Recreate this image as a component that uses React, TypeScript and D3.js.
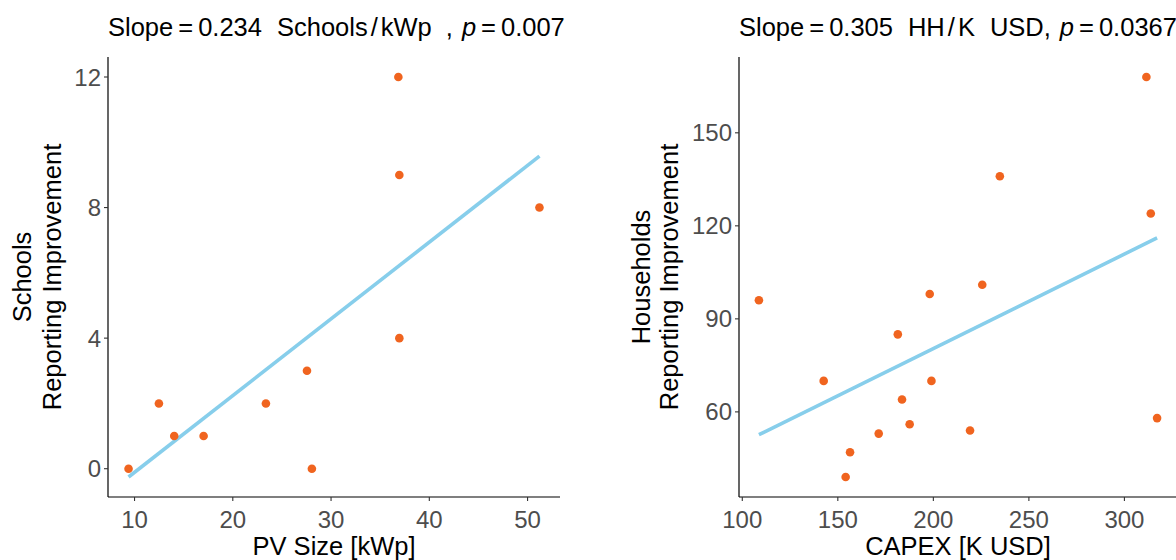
import React from "react";
import * as d3 from "d3";

const pvSize = [9.39, 12.48, 14.04, 17.03, 23.37, 27.55, 28.05, 36.85, 36.95, 51.21, 36.95];
const schools = [0, 2, 1, 1, 2, 3, 0, 12, 9, 8, 4];
const capex = [108.7, 142.6, 154.1, 156.4, 171.4, 181.4, 183.6, 187.6, 198.1, 199.0, 219.2, 225.6, 234.8, 311.5, 313.8, 317.1];
const households = [96, 70, 39, 47, 53, 85, 64, 56, 98, 70, 54, 101, 136, 168, 124, 58];
const leftXTicks = [10, 20, 30, 40, 50];
const leftYTicks = [0, 4, 8, 12];
const rightXTicks = [100, 150, 200, 250, 300];
const rightYTicks = [60, 90, 120, 150];

const ORANGE = "#F0641F";
const BLUE = "#87CEEB";
const FONT = "'Liberation Sans', Arial, Helvetica, sans-serif";

function fit(xs: number[], ys: number[]) {
  const mx = d3.mean(xs)!;
  const my = d3.mean(ys)!;
  let num = 0, den = 0;
  xs.forEach((x, i) => { num += (x - mx) * (ys[i] - my); den += (x - mx) ** 2; });
  const b = num / den;
  return { a: my - b * mx, b };
}

function expand(ext: [number, number]): [number, number] {
  const d = (ext[1] - ext[0]) * 0.05;
  return [ext[0] - d, ext[1] + d];
}

type PanelProps = {
  xs: number[]; ys: number[]; xTicks: number[]; yTicks: number[];
  left: number; right: number; top: number; bottom: number;
  xTitle: string; yTitle: string[]; title: React.ReactNode; yTitleX: number[];
};

function Panel(p: PanelProps) {
  const { a, b } = fit(p.xs, p.ys);
  const xExt = d3.extent(p.xs) as [number, number];
  const lineY = [a + b * xExt[0], a + b * xExt[1]];
  const yExt = d3.extent([...p.ys, ...lineY]) as [number, number];
  const x = d3.scaleLinear().domain(expand(xExt)).range([p.left, p.right]);
  const y = d3.scaleLinear().domain(expand(yExt)).range([p.bottom, p.top]);
  const line = d3.line<number>().x((v) => x(v)).y((v) => y(a + b * v));
  const midY = (p.top + p.bottom) / 2;
  return (
    <g fontFamily={FONT}>
      <text x={p.left} y={36} fontSize={25.5} fill="#000">{p.title}</text>
      <path d={line(xExt) || ""} stroke={BLUE} strokeWidth={3.6} fill="none" />
      {p.xs.map((v, i) => (
        <circle key={i} cx={x(v)} cy={y(p.ys[i])} r={4.3} fill={ORANGE} />
      ))}
      <line x1={p.left} x2={p.right} y1={p.bottom} y2={p.bottom} stroke="#000" strokeWidth={1.2} />
      <line x1={p.left} x2={p.left} y1={p.top} y2={p.bottom} stroke="#000" strokeWidth={1.2} />
      {p.xTicks.map((t) => (
        <g key={t}>
          <line x1={x(t)} x2={x(t)} y1={p.bottom} y2={p.bottom + 4} stroke="#333" strokeWidth={1.1} />
          <text x={x(t)} y={p.bottom + 31} fontSize={24} fill="#4D4D4D" textAnchor="middle">{t}</text>
        </g>
      ))}
      {p.yTicks.map((t) => (
        <g key={t}>
          <line x1={p.left - 4} x2={p.left} y1={y(t)} y2={y(t)} stroke="#333" strokeWidth={1.1} />
          <text x={p.left - 7} y={y(t) + 8.6} fontSize={24} fill="#4D4D4D" textAnchor="end">{t}</text>
        </g>
      ))}
      <text x={(p.left + p.right) / 2} y={555} fontSize={25.5} fill="#000" textAnchor="middle">{p.xTitle}</text>
      {p.yTitle.map((s, i) => (
        <text key={i} transform={`translate(${p.yTitleX[i]},${midY}) rotate(-90)`} fontSize={25.5} fill="#000" textAnchor="middle">{s}</text>
      ))}
    </g>
  );
}

export default function App() {
  const titleL = (
    <>
      <tspan>Slope</tspan><tspan dx={5}>=</tspan><tspan dx={5}>0.234</tspan>
      <tspan dx={15}>Schools</tspan><tspan dx={3}>/</tspan><tspan dx={3}>kWp</tspan>
      <tspan dx={14}>,</tspan><tspan dx={9} fontStyle="italic">p</tspan><tspan dx={5}>=</tspan><tspan dx={5}>0.007</tspan>
    </>
  );
  const titleR = (
    <>
      <tspan>Slope</tspan><tspan dx={5}>=</tspan><tspan dx={5}>0.305</tspan>
      <tspan dx={15}>HH</tspan><tspan dx={3}>/</tspan><tspan dx={3}>K</tspan>
      <tspan dx={15}>USD,</tspan><tspan dx={9} fontStyle="italic">p</tspan><tspan dx={5}>=</tspan><tspan dx={5}>0.0367</tspan>
    </>
  );
  return (
    <svg width={1176} height={560} style={{ position: "absolute", left: 0, top: 0, background: "#fff" }}>
      <rect width={1176} height={560} fill="#fff" />
      <Panel xs={pvSize} ys={schools} xTicks={leftXTicks} yTicks={leftYTicks}
        left={108} right={560} top={57} bottom={497}
        xTitle="PV Size [kWp]" yTitle={["Schools", "Reporting Improvement"]} yTitleX={[31, 61]} title={titleL} />
      <Panel xs={capex} ys={households} xTicks={rightXTicks} yTicks={rightYTicks}
        left={739} right={1177} top={57} bottom={497}
        xTitle="CAPEX [K USD]" yTitle={["Households", "Reporting Improvement"]} yTitleX={[650, 678]} title={titleR} />
    </svg>
  );
}
